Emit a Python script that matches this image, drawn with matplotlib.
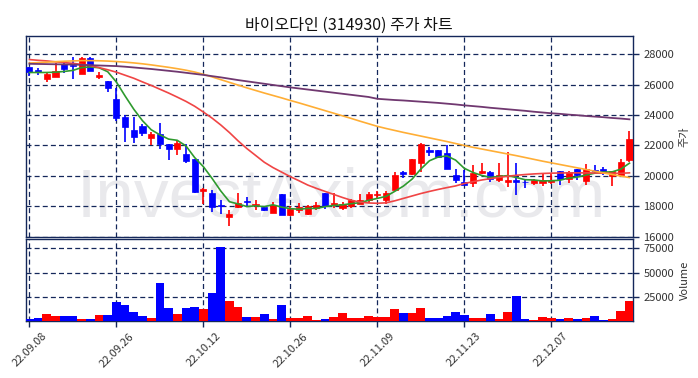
import matplotlib
matplotlib.use("Agg")
import matplotlib.pyplot as plt
import numpy as np
import pandas as pd

plt.rcParams['font.family'] = ['Noto Sans CJK KR', 'DejaVu Sans']

title = "바이오다인 (314930) 주가 차트"
tick_labels = ['22.09.08', '22.09.26', '22.10.12', '22.10.26', '22.11.09', '22.11.23', '22.12.07']
tick_idx = [0, 10, 20, 30, 40, 50, 60]

opens = [27150, 26950, 26350, 26530, 27340, 27300, 26730, 27780, 26530, 26250,
         25050, 23850, 23050, 23250, 22500, 22780, 22080, 21800, 21420, 21100,
         19000, 18850, 18090, 17320, 17980, 18380, 18070, 17950, 17560, 18800,
         17430, 17780, 17520, 17870, 18900, 18090, 17910, 18020, 18180, 18420,
         18720, 18420, 19080, 20260, 20100, 20870, 21680, 21680, 21490, 20040,
         19580, 19510, 20170, 20280, 19730, 19600, 19710, 19620, 19510, 19510,
         19600, 20330, 19780, 20430, 19670, 20410, 20430, 20000, 20040, 21050]
highs = [27150, 27120, 26750, 27400, 27500, 27850, 27800, 27800, 26840, 26250,
         25750, 24000, 23900, 23400, 22900, 23500, 22100, 22300, 22080, 21100,
         19180, 19080, 18400, 17760, 18860, 18620, 18400, 18020, 18290, 18800,
         18020, 18240, 18090, 18290, 18900, 18900, 18290, 18460, 18790, 18940,
         19000, 19000, 20260, 20330, 21140, 22150, 21925, 21700, 22000, 20435,
         20370, 20720, 20830, 20300, 20870, 21580, 20870, 19820, 19820, 20170,
         20200, 20350, 20300, 20480, 20800, 20700, 20610, 20350, 21100, 22930]
lows = [26600, 26620, 26150, 26500, 26750, 26350, 26700, 26900, 26350, 25500,
        23600, 22200, 22150, 22630, 22000, 21750, 21050, 21400, 20830, 18900,
        18180, 17630, 17520, 16700, 17900, 18000, 17760, 17700, 17540, 17400,
        17360, 17540, 17450, 17760, 17800, 17910, 17760, 17870, 18130, 18200,
        18500, 18130, 19000, 19890, 20040, 20280, 21310, 21200, 20430, 19560,
        19380, 19300, 20100, 19600, 19600, 19290, 18720, 19230, 19430, 19340,
        19450, 19400, 19560, 19730, 19380, 20215, 20040, 19340, 20000, 20920]
closes = [26850, 26850, 26700, 26880, 27060, 27200, 27780, 26900, 26620, 25750,
          23800, 23200, 22550, 22850, 22780, 22120, 21800, 22150, 21000, 18950,
          19140, 17950, 18010, 17470, 18200, 18300, 18180, 17740, 18090, 17430,
          17800, 17980, 18020, 18070, 18020, 18200, 18180, 18400, 18400, 18790,
          18830, 18850, 20040, 20130, 21090, 22120, 21600, 21270, 20480, 19730,
          19430, 20220, 20300, 19820, 20040, 19710, 19600, 19580, 19730, 19730,
          19760, 19780, 20280, 20040, 20430, 20350, 20170, 20330, 20940, 22400]
volumes = [1700, 2800, 6900, 4800, 4800, 4800, 1700, 1700, 5900, 5900,
           19400, 16250, 9000, 4800, 2800, 39000, 13100, 6900, 13100, 14200,
           12100, 28700, 76400, 20400, 14200, 3800, 3800, 6900, 1700, 16250,
           2800, 2800, 4800, 700, 1700, 3800, 8000, 2800, 2800, 4800,
           3800, 3800, 12100, 8000, 8000, 13100, 2800, 2800, 4800, 9000,
           5900, 2800, 2800, 6900, 1700, 9000, 25600, 1700, 700, 3800,
           2800, 1700, 2800, 1700, 2800, 4800, 700, 1700, 10000, 20400]
# closes before the first visible day (needed for the 5-day average)
prior_closes = [26850, 26700, 26780, 26820]

ma20 = [27650, 27600, 27560, 27500, 27450, 27400, 27330, 27250, 27120, 26980,
        26820, 26620, 26420, 26180, 25950, 25700, 25450, 25180, 24900, 24580,
        24200, 23800, 23350, 22850, 22300, 21800, 21350, 20900, 20550, 20250,
        19950, 19680, 19400, 19180, 18980, 18780, 18580, 18400, 18280, 18220,
        18200, 18230, 18360, 18520, 18680, 18840, 18980, 19110, 19230, 19340,
        19500, 19620, 19730, 19820, 19900, 19980, 20040, 20090, 20130, 20160,
        20180, 20190, 20200, 20200, 20200, 20190, 20180, 20170, 20170, 20200]
ma60 = [27420, 27450, 27480, 27510, 27540, 27560, 27580, 27580, 27570, 27550,
        27520, 27480, 27430, 27370, 27300, 27220, 27140, 27050, 26950, 26830,
        26680, 26510, 26330, 26150, 25970, 25790, 25620, 25450, 25290, 25130,
        24960, 24800, 24630, 24460, 24290, 24120, 23950, 23780, 23600, 23430,
        23260, 23120, 22990, 22860, 22740, 22620, 22500, 22380, 22260, 22130,
        22000, 21880, 21770, 21660, 21550, 21440, 21330, 21210, 21090, 20970,
        20860, 20750, 20640, 20530, 20420, 20310, 20200, 20090, 19990, 19890]
ma120 = [27370, 27360, 27350, 27340, 27330, 27320, 27300, 27280, 27260, 27240,
         27220, 27180, 27130, 27080, 27030, 26970, 26910, 26850, 26780, 26710,
         26640, 26560, 26480, 26390, 26300, 26220, 26140, 26060, 25980, 25900,
         25820, 25750, 25680, 25610, 25540, 25470, 25400, 25330, 25260, 25190,
         25070, 25030, 24990, 24960, 24920, 24880, 24840, 24800, 24750, 24700,
         24640, 24590, 24540, 24480, 24430, 24380, 24330, 24280, 24220, 24170,
         24120, 24080, 24030, 23990, 23940, 23900, 23860, 23810, 23770, 23720]

n = len(closes)
x = np.arange(n)
o = np.array(opens); h = np.array(highs); l = np.array(lows); c = np.array(closes)
ma5 = pd.Series(prior_closes + closes).rolling(5).mean().to_numpy()[len(prior_closes):]

up = c >= o
colors = np.where(up, '#ff0000', '#0000ff')

navy = '#14275a'
fig = plt.figure(figsize=(6.98, 3.78), dpi=100)
axp = fig.add_axes([0.0372, 0.3717, 0.8696, 0.5331])
axv = fig.add_axes([0.0372, 0.1516, 0.8696, 0.2153], sharex=axp)

for ax in (axp, axv):
    ax.grid(True, color=navy, linestyle=(0, (4, 2.5)), linewidth=0.9)
    for s in ax.spines.values():
        s.set_color(navy)
        s.set_linewidth(1.0)
    ax.yaxis.tick_right()
    ax.tick_params(axis='y', colors=navy, labelcolor='#333333', labelsize=8, length=4, width=1)
    ax.tick_params(axis='x', colors=navy, labelcolor='#333333', labelsize=8, length=4, width=1)

# watermark
axp.text(0.52, 0.105, 'InvestAxiom.com', transform=axp.transAxes, ha='center', va='baseline',
         fontsize=50, family='Liberation Sans', color='#e9e9ec', zorder=0.5)

# candles
axp.vlines(x, l, h, colors=colors, linewidth=1.2, zorder=3)
body_bottom = np.minimum(o, c)
body_h = np.maximum(np.abs(c - o), 40)
axp.bar(x, body_h, bottom=body_bottom, width=0.7, color=colors, edgecolor=colors, linewidth=0.5, zorder=3)

axp.plot(x, ma5, color='#2e9a2e', linewidth=1.2, zorder=4)
axp.plot(x, ma20, color='#f04545', linewidth=1.2, zorder=4)
axp.plot(x, ma60, color='#ffae35', linewidth=1.2, zorder=4)
axp.plot(x, ma120, color='#703870', linewidth=1.3, zorder=4)

axp.set_ylim(15950, 29200)
axp.set_yticks(np.arange(16000, 28001, 2000))
axp.set_ylabel('주가', fontsize=8, color='#333333')
axp.yaxis.set_label_position('right')
axp.tick_params(axis='x', labelbottom=False, length=0)

axv.bar(x, volumes, width=1.0, color=colors, zorder=3)
axv.set_ylim(0, 84500)
axv.set_yticks([25000, 50000, 75000])
axv.set_ylabel('Volume', fontsize=8, color='#333333')
axv.yaxis.set_label_position('right')

axv.set_xlim(-0.4, n - 0.6)
axv.set_xticks(tick_idx)
axv.set_xticklabels(tick_labels, rotation=45, ha='center')

fig.suptitle(title, x=0.5, y=0.955, fontsize=11.5, color='#111111')

fig.savefig('out.png', dpi=100)
